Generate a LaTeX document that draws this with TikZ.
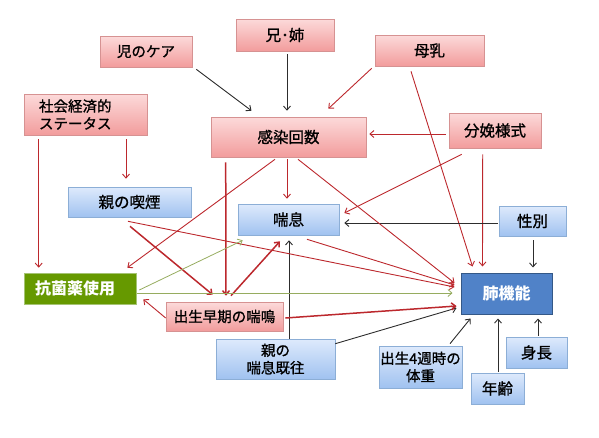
\documentclass[tikz,border=0pt]{standalone}
\usepackage{fontspec}
\setmainfont{Noto Sans CJK JP}[UprightFeatures={FakeBold=1}]
\usetikzlibrary{arrows.meta,calc,shadows}
\definecolor{pinkT}{RGB}{252,218,218}
\definecolor{pinkB}{RGB}{242,156,156}
\definecolor{pinkD}{RGB}{214,146,146}
\definecolor{blueT}{RGB}{222,234,252}
\definecolor{blueB}{RGB}{160,194,240}
\definecolor{blueD}{RGB}{140,174,214}
\definecolor{lungF}{RGB}{80,130,200}
\definecolor{lungD}{RGB}{52,88,135}
\definecolor{abxF}{RGB}{102,153,0}
\definecolor{abxD}{RGB}{165,195,115}
\definecolor{arrR}{RGB}{188,40,45}
\definecolor{arrK}{RGB}{45,45,45}
\definecolor{arrG}{RGB}{150,172,95}
\begin{document}
\begin{tikzpicture}[x=1pt,y=-1pt,
  box/.style={draw, line width=0.6pt, inner sep=0pt, align=center,
    drop shadow={shadow xshift=1pt,shadow yshift=-1pt,opacity=0.25,fill=black}},
  pinkbox/.style={box, draw=pinkD, top color=pinkT, bottom color=pinkB},
  bluebox/.style={box, draw=blueD, top color=blueT, bottom color=blueB},
  fbig/.style={font=\fontsize{15.5}{18}\selectfont},
  fsmall/.style={font=\fontsize{14.5}{17.5}\selectfont},
  tip/.style={-{Straight Barb[length=4pt,width=7pt]}},
  rline/.style={draw=arrR, line width=0.9pt, tip},
  rthick/.style={draw=arrR, line width=1.5pt, tip},
  kline/.style={draw=arrK, line width=0.9pt, tip},
  gline/.style={draw=arrG, line width=0.8pt, tip}
]
\useasboundingbox (0,0) rectangle (599,437);
% nodes
\node[pinkbox, fsmall, minimum width=92pt, minimum height=31pt] (care) at (146,51.5) {児のケア};
\node[pinkbox, fbig, minimum width=98pt, minimum height=32pt] (sib) at (285,35) {兄･姉};
\node[pinkbox, fbig, minimum width=109pt, minimum height=31pt] (milk) at (429.5,50.5) {母乳};
\node[pinkbox, fsmall, inner xsep=15pt, text width=93pt, align=left, minimum height=41pt] (ses) at (85.5,114.5) {社会経済的\\ステータス};
\node[pinkbox, fbig, minimum width=155pt, minimum height=40pt] (inf) at (288.5,137) {感染回数};
\node[pinkbox, fbig, minimum width=92pt, minimum height=35pt] (deliv) at (495,130.5) {分娩様式};
\node[bluebox, fbig, minimum width=123pt, minimum height=30pt] (smoke) at (129.5,202) {親の喫煙};
\node[bluebox, fbig, minimum width=101pt, minimum height=31pt] (asthma) at (288.5,219.5) {喘息};
\node[bluebox, fbig, minimum width=67pt, minimum height=30pt] (sex) at (532.5,221) {性別};
\node[box, draw=abxD, fill=abxF, text=white, font=\fontsize{16}{18}\selectfont\bfseries, inner xsep=11pt, text width=90pt, align=left, minimum height=31pt] (abx) at (80,288.5) {抗菌薬使用};
\node[box, draw=lungD, line width=1pt, fill=lungF, text=white, font=\fontsize{16}{18}\selectfont\bfseries, minimum width=91pt, minimum height=41pt] (lung) at (506.5,293.5) {肺機能};
\node[pinkbox, fsmall, minimum width=117pt, minimum height=29pt] (wheeze) at (224.5,316.5) {出生早期の喘鳴};
\node[bluebox, fsmall, minimum width=119pt, minimum height=40pt] (phist) at (275.5,359) {親の\\喘息既往};
\node[bluebox, fsmall, minimum width=83pt, minimum height=42pt] (weight) at (420.5,367) {出生4週時の\\体重};
\node[bluebox, fbig, minimum width=61pt, minimum height=31pt] (height) at (536.5,352.5) {身長};
\node[bluebox, fbig, minimum width=53pt, minimum height=31pt] (age) at (497.5,388.5) {年齢};
% connectors
\draw[kline] ($(care.south east)+(4,2)$) -- ($(inf.north)+(-37,-6)$);
\draw[kline] ($(sib.south)+(2,3)$) -- ($(inf.north)+(-1.5,-6)$);
\draw[rline] ($(milk.south west)+(-3,2)$) -- ($(inf.north east)+(-38,-8)$);
\draw[rline] ($(milk.south)+(-18.5,5)$) -- ($(lung.north west)+(12,-6)$);
\draw[rline] ($(deliv.west)+(-3,3.5)$) -- ($(inf.east)+(3,-3)$);
\draw[rline] ($(deliv.south west)+(13,6)$) -- ($(asthma.east)+(5,-6.5)$);
\draw[rline] ($(deliv.south west)+(34,6)$) -- ($(lung.north west)+(22,-6)$);
\draw[kline] ($(sex.west)+(-1,2)$) -- ($(asthma.east)+(5,3.5)$);
\draw[kline] ($(sex.south)+(0.5,4)$) -- ($(lung.north)+(26.5,-5)$);
\draw[kline] ($(height.north)+(1.5,-1)$) -- ($(lung.south)+(31.5,4)$);
\draw[kline] ($(age.north)+(0.5,-1)$) -- ($(lung.south)+(-8.5,4)$);
\draw[kline] ($(weight.north)+(29.5,-2)$) -- ($(lung.south west)+(10,4)$);
\draw[kline] ($(phist.north east)+(0,5)$) -- ($(lung.west)+(-4,14.5)$);
\draw[kline] ($(phist.north)+(13.5,0)$) -- ($(asthma.south)+(0.5,5)$);
\draw[rline] ($(inf.south)+(-1.5,2)$) -- ($(asthma.north)+(-1.5,-5)$);
\draw[rline] ($(inf.south)+(-13.5,2)$) -- ($(abx.north east)+(-9,-5)$);
\draw[rthick] ($(inf.south west)+(15,5)$) -- ($(wheeze.north)+(1.5,-6)$);
\draw[rline] ($(inf.south)+(9.5,2)$) -- ($(lung.west)+(-6,-10.5)$);
\draw[rthick] ($(smoke.south)+(0.5,9)$) -- ($(wheeze.north west)+(47,-7)$);
\draw[rline] ($(smoke.south)+(-1.5,4)$) -- ($(lung.west)+(-6,-6.5)$);
\draw[rline] ($(asthma.south)+(18.5,4)$) -- ($(lung.west)+(-6,-8.5)$);
\draw[rthick] ($(wheeze.north)+(6.5,-6)$) -- ($(asthma.south)+(-8.5,6)$);
\draw[rline] ($(wheeze.west)+(0,1.5)$) -- ($(abx.south east)+(7,-5)$);
\draw[rthick] ($(wheeze.east)+(2,1.5)$) -- ($(lung.west)+(-4,12.5)$);
\draw[gline] ($(abx.east)+(1,4.5)$) -- ($(lung.west)+(-8,-0.5)$);
\draw[gline] ($(abx.east)+(3,1.5)$) -- ($(asthma.south west)+(5,5)$);
\draw[rline] ($(ses.south)+(40.5,4)$) -- ($(smoke.north)+(-3.5,-8)$);
\draw[rline] ($(ses.south west)+(15,4)$) -- ($(abx.north west)+(15,-5)$);
\end{tikzpicture}
\end{document}
